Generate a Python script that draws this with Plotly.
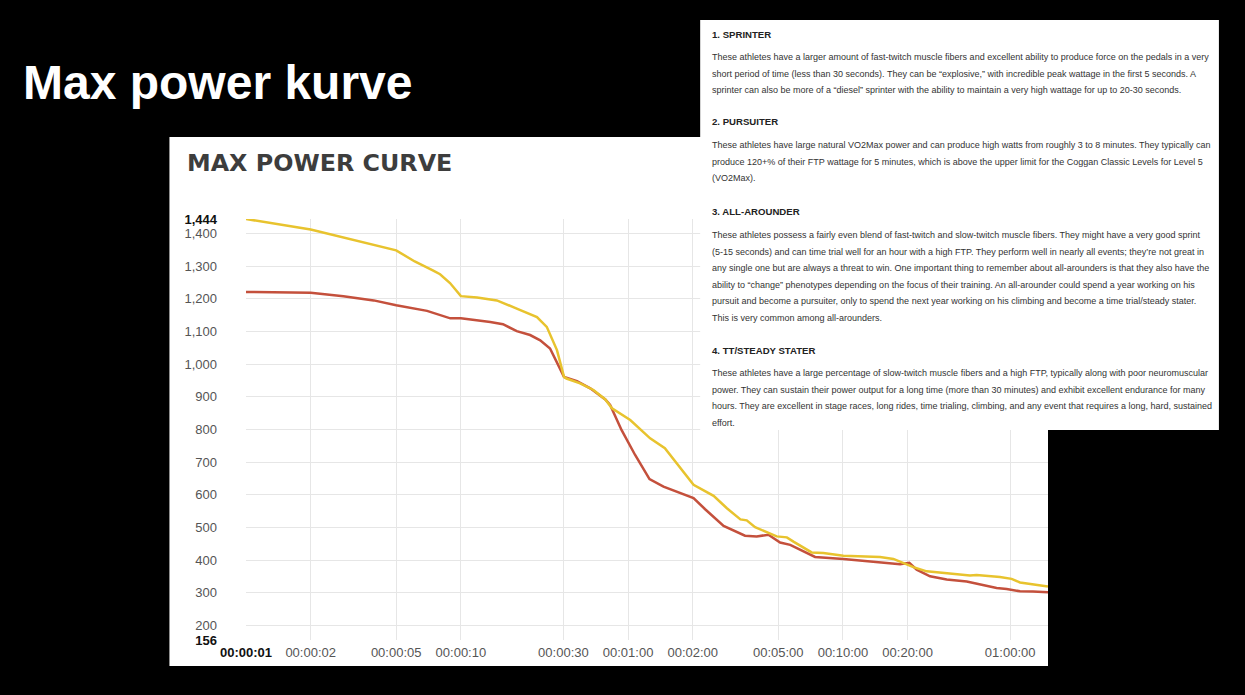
import plotly.graph_objects as go

# durations in seconds, max power in watts
yellow_sec = [1, 2, 5, 6.1, 7.4, 8.0, 8.9, 10, 11.9, 14.7, 18.2, 22.6, 25.1, 28.0, 30.2,
              31, 35.9, 41.4, 47, 50.5, 61.4, 76, 89, 121, 150, 173, 200, 214, 234, 265,
              295, 329, 353, 429, 486, 603, 893, 1030, 1146, 1276, 1472, 1824, 2340,
              2513, 3227, 3656, 4000, 5400]
yellow_w = [1444, 1412, 1348, 1314, 1287, 1275, 1248, 1208, 1204, 1195, 1170, 1144, 1114, 1043, 961,
            956, 941, 921, 892, 865, 829, 773, 743, 631, 597, 559, 525, 522, 501, 485,
            473, 470, 457, 424, 422, 414, 410, 404, 392, 379, 366, 361, 353,
            355, 349, 343, 332, 320]

red_sec = [1, 2, 2.84, 3.93, 5, 6.03, 6.96, 8.93, 10, 13.7, 15.7, 18.2, 21.0, 23.4, 26.0,
           30.2, 34.7, 40, 47, 49.5, 56, 64.7, 75.5, 87.7, 121, 137, 167, 210, 238, 270,
           306, 341, 445, 603, 893, 1107, 1222, 1322, 1525, 1824, 2260, 2700, 3114,
           3467, 4000, 4594, 5400]
red_w = [1221, 1218, 1208, 1195, 1180, 1170, 1163, 1140, 1140, 1129, 1122, 1101, 1089, 1073, 1048,
         961, 948, 926, 892, 875, 798, 722, 648, 625, 590, 556, 505, 475, 473, 478,
         454, 447, 410, 404, 394, 388, 392, 371, 351, 341, 335, 325, 315,
         312, 305, 304, 302]

x_ticks = [1, 2, 5, 10, 30, 60, 120, 300, 600, 1200, 3600]
x_labels = ["<b><span style='color:#111'>00:00:01</span></b>", "00:00:02", "00:00:05", "00:00:10",
            "00:00:30", "00:01:00", "00:02:00", "00:05:00", "00:10:00", "00:20:00", "01:00:00"]
y_ticks = [156, 200, 300, 400, 500, 600, 700, 800, 900, 1000, 1100, 1200, 1300, 1400, 1444]
y_labels = ["<b><span style='color:#111'>156</span></b>", "200", "300", "400", "500", "600", "700",
            "800", "900", "1,000", "1,100", "1,200", "1,300", "1,400",
            "<b><span style='color:#111'>1,444</span></b>"]

sections = [
    ("1. SPRINTER", [
        "These athletes have a larger amount of fast-twitch muscle fibers and excellent ability to produce force on the pedals in a very",
        "short period of time (less than 30 seconds). They can be “explosive,” with incredible peak wattage in the first 5 seconds. A",
        "sprinter can also be more of a “diesel” sprinter with the ability to maintain a very high wattage for up to 20-30 seconds.",
    ]),
    ("2. PURSUITER", [
        "These athletes have large natural VO2Max power and can produce high watts from roughly 3 to 8 minutes. They typically can",
        "produce 120+% of their FTP wattage for 5 minutes, which is above the upper limit for the Coggan Classic Levels for Level 5",
        "(VO2Max).",
    ]),
    ("3. ALL-AROUNDER", [
        "These athletes possess a fairly even blend of fast-twitch and slow-twitch muscle fibers. They might have a very good sprint",
        "(5-15 seconds) and can time trial well for an hour with a high FTP. They perform well in nearly all events; they’re not great in",
        "any single one but are always a threat to win. One important thing to remember about all-arounders is that they also have the",
        "ability to “change” phenotypes depending on the focus of their training. An all-arounder could spend a year working on his",
        "pursuit and become a pursuiter, only to spend the next year working on his climbing and become a time trial/steady stater.",
        "This is very common among all-arounders.",
    ]),
    ("4. TT/STEADY STATER", [
        "These athletes have a large percentage of slow-twitch muscle fibers and a high FTP, typically along with poor neuromuscular",
        "power. They can sustain their power output for a long time (more than 30 minutes) and exhibit excellent endurance for many",
        "hours. They are excellent in stage races, long rides, time trialing, climbing, and any event that requires a long, hard, sustained",
        "effort.",
    ]),
]

W, H = 1245, 695
L, R, T, B = 245.6, 1048, 219, 640


def px(x):
    return (x - L) / (R - L)


def py(y):
    return (B - y) / (B - T)


fig = go.Figure()
fig.add_trace(go.Scatter(x=red_sec, y=red_w, mode="lines",
                         line=dict(color="#c4503c", width=2.5), hoverinfo="skip"))
fig.add_trace(go.Scatter(x=yellow_sec, y=yellow_w, mode="lines",
                         line=dict(color="#e8c32e", width=2.5), hoverinfo="skip"))

shapes = [
    # chart panel
    dict(type="rect", xref="paper", yref="paper", x0=px(169), x1=px(1048), y0=py(666), y1=py(137),
         fillcolor="white", line=dict(width=0), layer="below"),
    # text card on top
    dict(type="rect", xref="paper", yref="paper", x0=px(700), x1=px(1219), y0=py(430), y1=py(20),
         fillcolor="white", line=dict(width=0), layer="above"),
]

annotations = [
    dict(text="<b>Max power kurve</b>", x=px(20), y=py(82), xref="paper", yref="paper",
         xanchor="left", yanchor="middle", showarrow=False,
         font=dict(family="Liberation Sans, Arial", size=48, color="white")),
    dict(text="<b>MAX POWER CURVE</b>", x=px(185), y=py(163), xref="paper", yref="paper",
         xanchor="left", yanchor="middle", showarrow=False,
         font=dict(family="DejaVu Sans", size=23.8, color="#3d3d3d")),
]

head_y = [34, 122, 212, 350]
for (head, lines), hy in zip(sections, head_y):
    annotations.append(dict(text="<b>" + head + "</b>", x=px(710), y=py(hy), xref="paper", yref="paper",
                            xanchor="left", yanchor="middle", showarrow=False,
                            font=dict(family="Liberation Sans, Arial", size=9.6, color="#222")))
    for i, line in enumerate(lines):
        ly = hy + 23 + i * 16.5
        annotations.append(dict(text=line, x=px(710), y=py(ly), xref="paper", yref="paper",
                                xanchor="left", yanchor="middle", showarrow=False,
                                font=dict(family="Liberation Sans, Arial", size=9, color="#333")))

fig.update_layout(
    width=W, height=H,
    margin=dict(l=L, r=W - R, t=T, b=H - B),
    paper_bgcolor="black", plot_bgcolor="white",
    showlegend=False,
    shapes=shapes, annotations=annotations,
    xaxis=dict(type="log", range=[0, 3.7324], tickvals=x_ticks, ticktext=x_labels,
               showgrid=True, gridcolor="#e6e6e6", gridwidth=1, zeroline=False, showline=False,
               ticks="", ticklabelstandoff=3,
               tickfont=dict(family="Liberation Sans, Arial", size=13, color="#555")),
    yaxis=dict(range=[156, 1444], tickvals=y_ticks, ticktext=y_labels,
               showgrid=True, gridcolor="#e6e6e6", gridwidth=1, zeroline=False, showline=False,
               ticks="", ticklabelstandoff=28,
               tickfont=dict(family="Liberation Sans, Arial", size=13, color="#555")),
)

# page has a default 8px body margin; drop it so the figure fills the window
fig.write_html("out.html", config={"displayModeBar": False},
               post_script="document.body.style.margin='0';document.body.style.background='black';")
